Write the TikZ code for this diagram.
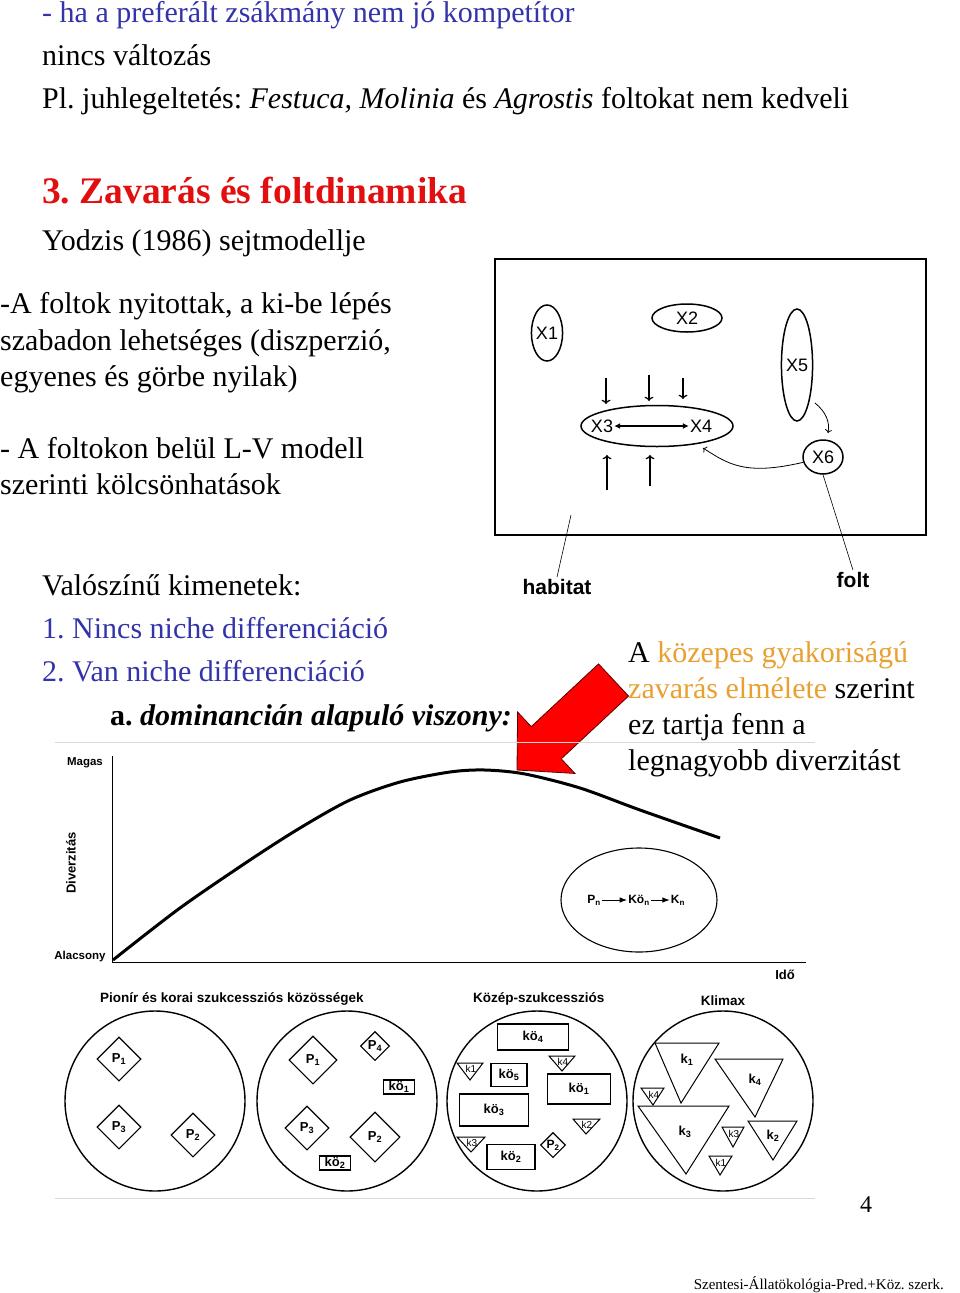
\documentclass[tikz,border=0pt]{standalone}
\usepackage{fontspec}
\setmainfont{Liberation Serif}
\setsansfont{Liberation Sans}
\usepackage{tikz}
\usetikzlibrary{positioning, shapes.geometric, arrows.meta}

\definecolor{slideblue}{RGB}{51,51,170}
\definecolor{slidered}{RGB}{225,15,15}
\definecolor{slideorange}{RGB}{232,160,48}
\newcommand{\fsz}[1]{\fontsize{#1}{#1}\selectfont}
\frenchspacing

\begin{document}
\begin{tikzpicture}[x=1pt, y=-1pt,
    txt/.style={anchor=base west, inner sep=0pt, font=\fsz{30}},
    patch/.style={ellipse, draw, line width=1.5pt, inner sep=0pt, font=\sffamily\fsz{18}},
    lbl/.style={inner sep=0pt, font=\sffamily\bfseries\fsz{13}},
    sp/.style={diamond, draw, line width=1.1pt, inner sep=0pt, font=\sffamily\bfseries\fsz{13}},
    kbox/.style={rectangle, draw, line width=1.1pt, inner sep=0pt, font=\sffamily\bfseries\fsz{13}}]

  \useasboundingbox (0,0) rectangle (960,1293);

  % upper text
  \node[txt, text=slideblue] (l1) at (42,22) {- ha a preferált zsákmány nem jó kompetítor};
  \node[txt] (l2) at (42,65) {nincs változás};
  \node[txt] (l3) at (42,108) {Pl. juhlegeltetés: \textit{Festuca, Molinia} és \textit{Agrostis} foltokat nem kedveli};
  \node[txt, text=slidered, font=\bfseries\fsz{37.5}] (title) at (42,203) {3. Zavarás és foltdinamika};
  \node[txt] (yod) at (42,250) {Yodzis (1986) sejtmodellje};
  \node[txt] (p1) at (0,313) {-A foltok nyitottak, a ki-be lépés};
  \node[txt] (p2) at (0,350) {szabadon lehetséges (diszperzió,};
  \node[txt] (p3) at (0,386) {egyenes és görbe nyilak)};
  \node[txt] (p4) at (0,458) {- A foltokon belül L-V modell};
  \node[txt] (p5) at (0,494) {szerinti kölcsönhatások};

  % cell model
  \draw[line width=2.8pt] (495,259) rectangle (926,535);
  \node[patch, minimum width=24pt, minimum height=56pt] (x1) at (547,333) {X1};
  \node[patch, minimum width=70pt, minimum height=28pt] (x2) at (687,318) {X2};
  \node[patch, minimum width=26pt, minimum height=112pt] (x5) at (797,365) {X5};
  \node[patch, minimum width=40pt, minimum height=34pt] (x6) at (823,457) {X6};
  \node[patch, minimum width=152pt, minimum height=41pt] (x34) at (657,426) {};
  \node[font=\sffamily\fsz{18}, inner sep=1pt] (x3) at (602,426) {X3};
  \node[font=\sffamily\fsz{18}, inner sep=1pt] (x4) at (701,426) {X4};
  \draw[{Latex[length=6pt,width=6pt]}-{Latex[length=6pt,width=6pt]}, line width=1.4pt] (x3) -- (x4);

  % in and out of the patch
  \foreach \i/\ya/\yb in {606/378/404, 649/375/401, 683/378/399} {
    \draw[->, line width=1.2pt] (\i,\ya) -- (\i,\yb);
  }
  \foreach \i/\ya in {607/490, 650/486} {
    \draw[->, line width=1.2pt] (\i,\ya) -- (\i,455);
  }
  \draw[->, line width=0.8pt] (815,403) .. controls (826,412) and (830,422) .. (828,433);
  \draw[->, line width=0.8pt] (x6.195) .. controls (745,476) and (728,464) .. (703,448);

  \node[font=\sffamily\bfseries\fsz{21}, inner sep=0pt] (habitat) at (557,587) {habitat};
  \node[font=\sffamily\bfseries\fsz{21}, inner sep=0pt] (folt) at (853,580) {folt};
  \coordinate (habtop) at (571,515);
  \draw[line width=0.6pt] ([yshift=2pt]habitat.north) -- (habtop);
  \draw[line width=0.6pt] ([yshift=2pt]folt.north) -- (x6.south);

  % outcomes
  \node[txt] (v0) at (42,595) {Valószínű kimenetek:};
  \node[txt, text=slideblue] (v1) at (42,638) {1. Nincs niche differenciáció};
  \node[txt, text=slideblue] (v2) at (42,681) {2. Van niche differenciáció};
  \node[txt] (v3) at (110,725) {\textbf{a.} \textbf{\textit{dominancián alapuló viszony:}}};

  \node[txt] (r1) at (628,662) {A \textcolor{slideorange}{közepes gyakoriságú}};
  \node[txt] (r2) at (628,698) {\textcolor{slideorange}{zavarás elmélete} szerint};
  \node[txt] (r3) at (628,734) {ez tartja fenn a};
  \node[txt] (r4) at (628,770) {legnagyobb diverzitást};

  % red arrow
  \begin{scope}[shift={(517,770)}, rotate=223]
    \fill[red, draw=red!35!black, line width=0.8pt] (0,0) -- (-40,42) -- (-40,22) -- (-132,22)
      -- (-132,-22) -- (-40,-22) -- (-40,-42) -- cycle;
  \end{scope}

  % diversity graph
  \draw[black!15, line width=0.8pt] (55,742) -- (815,742);
  \draw[black!15, line width=0.8pt] (55,1198) -- (815,1198);
  \draw[line width=1pt] (112,756) -- (112,962) -- (806,962);
  \node[lbl, font=\sffamily\bfseries\fsz{11.5}] (magas) at (85,763) {Magas};
  \node[lbl, font=\sffamily\bfseries\fsz{11.5}] (alacs) at (80,957) {Alacsony};
  \node[lbl, rotate=90] (div) at (71,863) {Diverzitás};
  \node[lbl] (ido) at (785,975) {Idő};
  \draw[line width=3pt] plot[smooth] coordinates {(113,960) (180,908) (250,860) (300,828) (350,800)
    (400,782) (450,772) (485,770) (525,774) (580,788) (640,810) (720,838)};

  \draw[line width=1.1pt] (639,900) ellipse [x radius=78pt, y radius=52pt];
  \node[font=\sffamily\bfseries\fsz{12}, inner sep=1pt] (pn) at (594,900) {P\textsubscript{n}};
  \node[font=\sffamily\bfseries\fsz{12}, inner sep=1pt] (kon) at (639,900) {Kö\textsubscript{n}};
  \node[font=\sffamily\bfseries\fsz{12}, inner sep=1pt] (kn) at (678,900) {K\textsubscript{n}};
  \draw[-{Latex}, line width=1pt] (pn) -- (kon);
  \draw[-{Latex}, line width=1pt] (kon) -- (kn);

  % succession stages
  \node[lbl, anchor=base west, font=\sffamily\bfseries\fsz{13.5}] (h1) at (100,1002) {Pionír és korai szukcessziós közösségek};
  \node[lbl, anchor=base west, font=\sffamily\bfseries\fsz{13.5}] (h2) at (473,1002) {Közép-szukcessziós};
  \node[lbl, anchor=base, font=\sffamily\bfseries\fsz{13.5}] (h3) at (723,1005) {Klimax};

  \foreach \cx in {155,347,537,723} {
    \draw[line width=1.4pt] (\cx,1101) circle [radius=90pt];
  }

  % pioneer
  \node[sp, minimum size=44pt] (a1) at (119,1059) {P\textsubscript{1}};
  \node[sp, minimum size=44pt] (a3) at (119,1127) {P\textsubscript{3}};
  \node[sp, minimum size=44pt] (a2) at (193,1135) {P\textsubscript{2}};

  % early
  \node[sp, minimum size=48pt] (b1) at (313,1060) {P\textsubscript{1}};
  \node[sp, minimum size=29pt] (b4) at (375,1046) {P\textsubscript{4}};
  \node[sp, minimum size=44pt] (b3) at (307,1128) {P\textsubscript{3}};
  \node[sp, minimum size=50pt] (b2) at (375,1137) {P\textsubscript{2}};
  \node[kbox, minimum width=31pt, minimum height=14pt] (bk1) at (399,1087) {kö\textsubscript{1}};
  \node[kbox, minimum width=31pt, minimum height=14pt] (bk2) at (335,1163) {kö\textsubscript{2}};

  % middle
  \node[kbox, minimum width=71pt, minimum height=26pt] (c4) at (533,1037) {kö\textsubscript{4}};
  \node[kbox, minimum width=36pt, minimum height=23pt] (c5) at (509,1075) {kö\textsubscript{5}};
  \node[kbox, minimum width=63pt, minimum height=30pt] (c1) at (579,1089) {kö\textsubscript{1}};
  \node[kbox, minimum width=69pt, minimum height=32pt] (c3) at (494,1110) {kö\textsubscript{3}};
  \node[kbox, minimum width=48pt, minimum height=25pt] (c2) at (511,1157) {kö\textsubscript{2}};
  \node[sp, minimum size=25pt, font=\sffamily\bfseries\fsz{12}] (cp2) at (553,1145) {P\textsubscript{2}};
  \foreach \xa/\xb/\yt/\tx/\ty/\k in {457/483/1063/470/1080/k1, 549/575/1056/562/1071/k4,
      573/600/1119/586/1134/k2, 457/485/1137/471/1152/k3} {
    \draw[line width=1pt] (\xa,\yt) -- (\xb,\yt) -- (\tx,\ty) -- cycle;
    \node[font=\sffamily\fsz{10}, inner sep=0pt] at (\tx+1,\yt+6) {\k};
  }

  % climax
  \foreach \xa/\xb/\yt/\tx/\ty/\lx/\ly/\k in {655/719/1043/681/1103/687/1060/{k\textsubscript{1}},
      715/783/1059/755/1117/755/1080/{k\textsubscript{4}}, 638/729/1106/686/1174/685/1132/{k\textsubscript{3}},
      748/797/1121/773/1160/773/1136/{k\textsubscript{2}}} {
    \draw[line width=1pt, fill=white] (\xa,\yt) -- (\xb,\yt) -- (\tx,\ty) -- cycle;
    \node[lbl] at (\lx,\ly) {\k};
  }
  \foreach \xa/\xb/\yt/\tx/\ty/\k in {641/664/1088/653/1105/k4, 722/744/1127/733/1147/k3,
      709/732/1156/720/1175/k1} {
    \draw[line width=1pt] (\xa,\yt) -- (\xb,\yt) -- (\tx,\ty) -- cycle;
    \node[font=\sffamily\fsz{10}, inner sep=0pt] at (\tx+1,\yt+7) {\k};
  }

  % page footer
  \node[anchor=base, inner sep=0pt, font=\fsz{24}] (pg) at (866,1212) {4};
  \node[anchor=base east, inner sep=0pt, font=\fsz{15}] (foot) at (944,1289) {Szentesi-Állatökológia-Pred.+Köz. szerk.};
\end{tikzpicture}
\end{document}
